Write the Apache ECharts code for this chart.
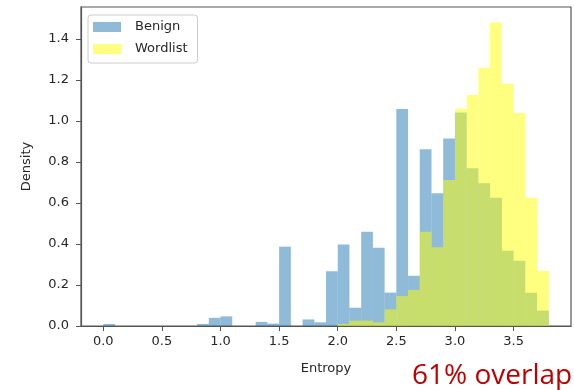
<!DOCTYPE html>
<html>
<head>
<meta charset="utf-8">
<script src="https://cdn.jsdelivr.net/npm/echarts@6/dist/echarts.min.js"></script>
<style>html,body{margin:0;padding:0;background:#fff}#c{width:574px;height:390px}</style>
</head>
<body>
<div id="c"></div>
<script>
// Histogram bin edges (entropy)
const binEdges = [0.0,0.1,0.2,0.3,0.4,0.5,0.6,0.7,0.8,0.9,1.0,1.1,1.2,1.3,1.4,1.5,1.6,1.7,1.8,1.9,
                  2.0,2.1,2.2,2.3,2.4,2.5,2.6,2.7,2.8,2.9,3.0,3.1,3.2,3.3,3.4,3.5,3.6,3.7,3.8];
// Density per bin
const benign = [0.010,0,0,0,0,0,0,0,0.010,0.040,0.047,0,0,0.020,0.012,0.387,0,0.032,0.018,0.267,
                0.397,0.089,0.460,0.382,0.163,1.058,0.245,0.862,0.647,0.915,1.041,0.769,0.696,0.626,0.367,0.318,0.162,0.075];
const wordlist = [0,0,0,0,0,0,0,0,0,0,0,0,0,0,0,0,0,0,0,0,
                  0.010,0.026,0.026,0.018,0.081,0.146,0.176,0.460,0.384,0.712,1.060,1.127,1.260,1.481,1.182,1.039,0.626,0.268];
const xTicks = [0.0,0.5,1.0,1.5,2.0,2.5,3.0,3.5];
const yTicks = [0.0,0.2,0.4,0.6,0.8,1.0,1.2,1.4];
const seriesNames = ['Benign','Wordlist'];
const annotation = '61% overlap';

function toBins(vals){
  return vals.map((v,i)=>[binEdges[i], binEdges[i+1], v]);
}
function renderItem(params, api){
  const p0 = api.coord([api.value(0), api.value(2)]);
  const p1 = api.coord([api.value(1), 0]);
  return {type:'rect', shape:{x:p0[0], y:p0[1], width:p1[0]-p0[0], height:p1[1]-p0[1]}, style: api.style()};
}
const font = 'DejaVu Sans';
const txt = '#262626';
const chart = echarts.init(document.getElementById('c'), null, {renderer:'canvas'});
chart.setOption({
  animation:false,
  grid:{left:81,right:3,top:7,bottom:64,show:true,borderColor:'#555',borderWidth:1.2,backgroundColor:'transparent'},
  legend:{
    orient:'vertical', left:88, top:15, icon:'rect', itemWidth:28, itemHeight:10, itemGap:8,
    padding:[5,10,7,5], borderColor:'#ccc', borderWidth:1, borderRadius:3, backgroundColor:'rgba(255,255,255,0.8)',
    textStyle:{fontFamily:font, fontSize:13, color:txt, lineHeight:14, padding:[0,0,0,9]},
    data:seriesNames
  },
  xAxis:{
    type:'value', min:-0.19, max:3.99,
    name:'Entropy', nameLocation:'middle', nameGap:36,
    nameTextStyle:{fontFamily:font, fontSize:13, color:txt},
    axisLine:{show:true, onZero:false, lineStyle:{color:'#555', width:1.2}},
    axisTick:{show:true, length:5, lineStyle:{color:'#555'}, customValues:xTicks},
    axisLabel:{fontFamily:font, fontSize:13, color:txt, margin:9, customValues:xTicks, formatter:v=>v.toFixed(1)},
    splitLine:{show:false}
  },
  yAxis:{
    type:'value', min:0, max:1.556,
    name:'Density', nameLocation:'middle', nameGap:48,
    nameTextStyle:{fontFamily:font, fontSize:13, color:txt},
    axisLine:{show:true, onZero:false, lineStyle:{color:'#555', width:1.2}},
    axisTick:{show:true, length:5, lineStyle:{color:'#555'}, customValues:yTicks},
    axisLabel:{fontFamily:font, fontSize:13, color:txt, margin:12, customValues:yTicks, formatter:v=>v.toFixed(1)},
    splitLine:{show:false}
  },
  series:[
    {name:seriesNames[0], type:'custom', renderItem, encode:{x:[0,1], y:2},
     itemStyle:{color:'rgba(31,119,180,0.5)'}, data:toBins(benign)},
    {name:seriesNames[1], type:'custom', renderItem, encode:{x:[0,1], y:2},
     itemStyle:{color:'rgba(255,255,0,0.5)'}, data:toBins(wordlist)}
  ],
  graphic:[{type:'text', left:412, top:362,
    style:{text:annotation, fontFamily:'Open Sans', fontSize:28, fill:'#c00000'}}]
});
</script>
</body>
</html>
